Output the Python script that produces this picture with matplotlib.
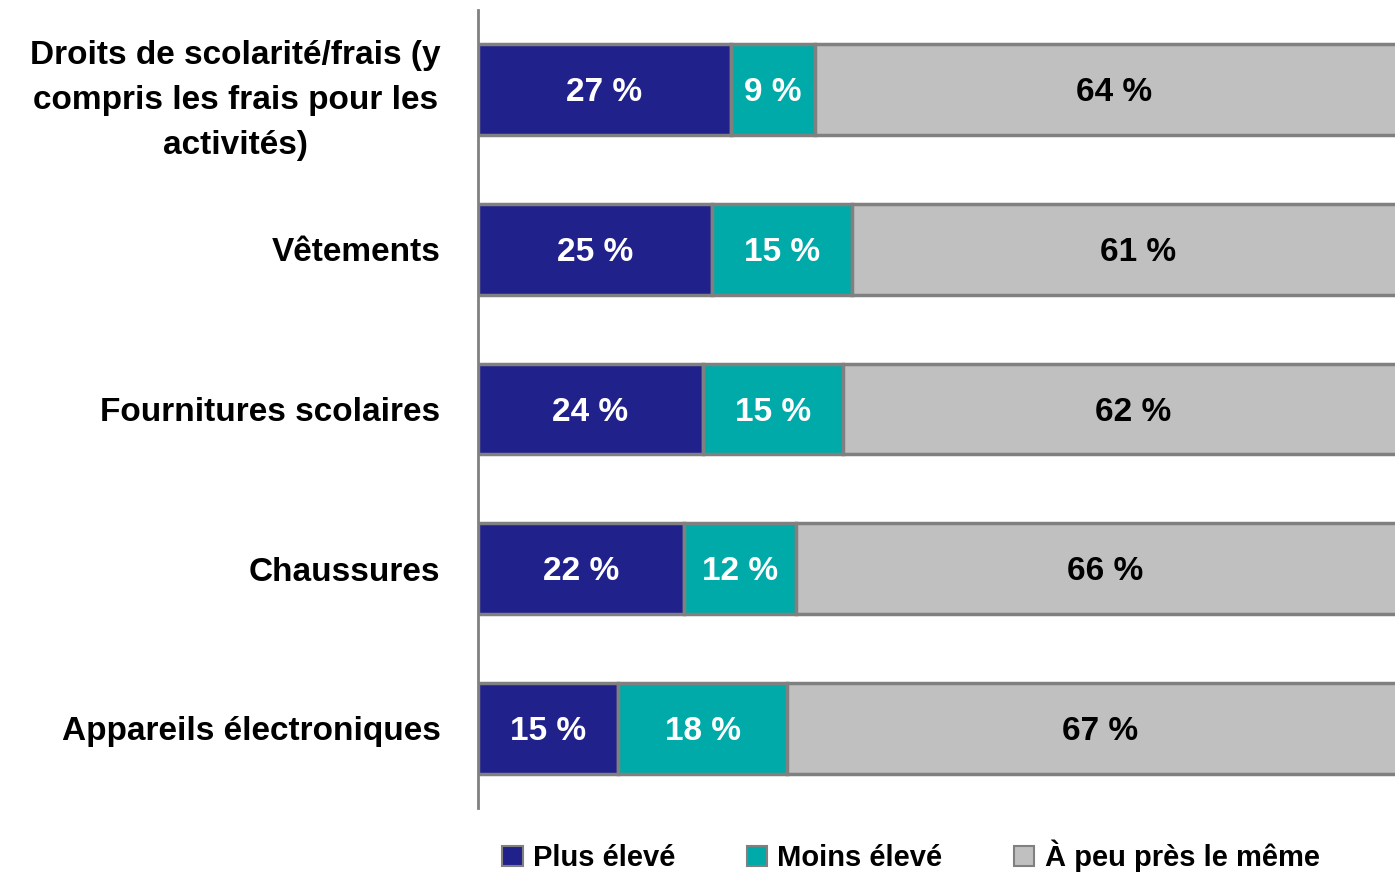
import matplotlib.pyplot as plt
from matplotlib.patches import Patch

categories = [
    "Droits de scolarité/frais (y\ncompris les frais pour les\nactivités)",
    "Vêtements",
    "Fournitures scolaires",
    "Chaussures",
    "Appareils électroniques",
]
plus_eleve = [27, 25, 24, 22, 15]
moins_eleve = [9, 15, 15, 12, 18]
meme = [64, 61, 62, 66, 67]

series_names = ["Plus élevé", "Moins élevé", "À peu près le même"]
colors = ["#21218c", "#00aaa8", "#c0c0c0"]
text_colors = ["white", "white", "black"]

plt.rcParams["font.family"] = ["Liberation Sans", "DejaVu Sans"]
plt.rcParams["font.weight"] = "bold"

fig = plt.figure(figsize=(13.95, 8.75), dpi=100)
ax = fig.add_axes([478 / 1395, 1 - 808 / 875, 1 - 478 / 1395, 798 / 875])

y = list(range(len(categories)))
left = [0] * len(categories)
for vals, col, tcol in zip([plus_eleve, moins_eleve, meme], colors, text_colors):
    ax.barh(y, vals, left=left, height=0.57, color=col,
            edgecolor="#808080", linewidth=2.5)
    for i, v in enumerate(vals):
        ax.text(left[i] + v / 2, y[i] + 0.02, f"{v} %", ha="center", va="center",
                color=tcol, fontsize=24, fontweight="bold")
    left = [l + v for l, v in zip(left, vals)]

ax.set_xlim(0, 98.0)
ax.set_ylim(len(categories) - 0.5, -0.5)
ax.set_yticks(y)
ax.set_yticklabels(categories, fontsize=24, fontweight="bold",
                   multialignment="center", linespacing=1.6)
ax.tick_params(axis="y", length=0, pad=27)
ax.set_xticks([])
for s in ["top", "right", "bottom"]:
    ax.spines[s].set_visible(False)
ax.spines["left"].set_color("#808080")
ax.spines["left"].set_linewidth(2)

handles = [Patch(facecolor=c, edgecolor="#808080", linewidth=1.5) for c in colors]
fig.legend(handles, series_names, loc="center", bbox_to_anchor=(911 / 1395, 1 - 856 / 875),
           ncol=3, frameon=False, handlelength=0.7, handleheight=0.7,
           handletextpad=0.35, columnspacing=2.45, prop={"weight": "bold", "size": 21})

fig.savefig("out.png", dpi=100)
